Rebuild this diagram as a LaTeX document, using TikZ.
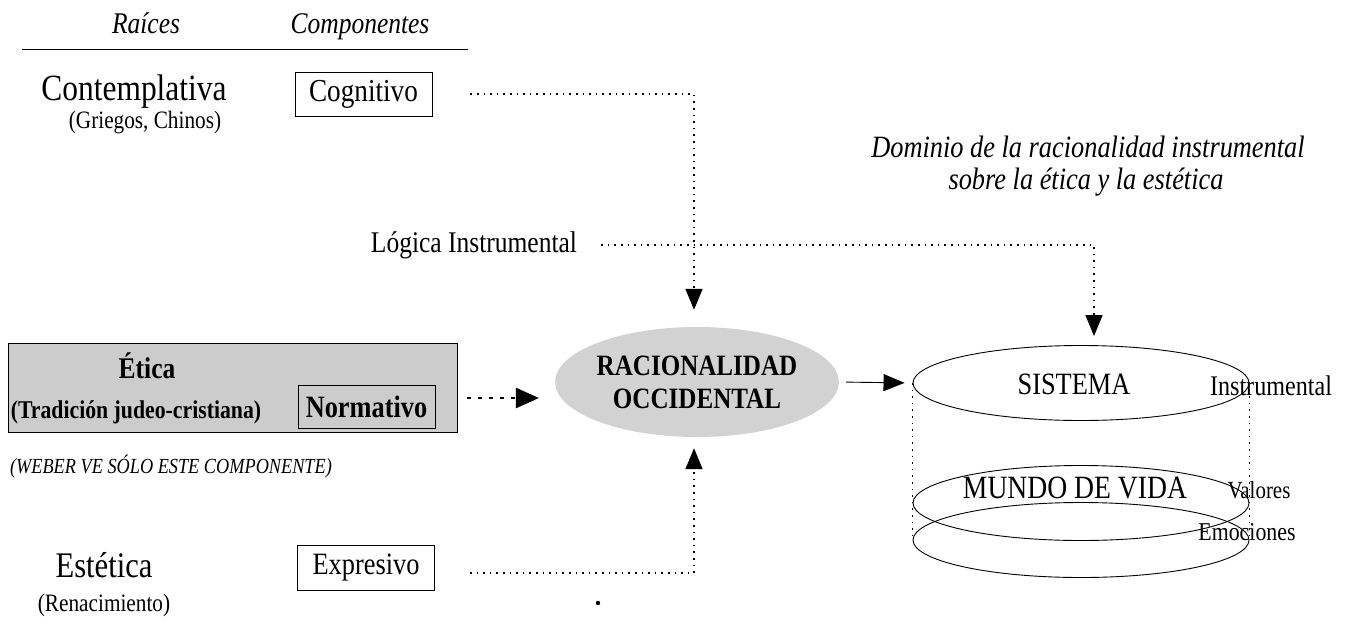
\documentclass[tikz,border=0pt]{standalone}
\usepackage{fontspec}
\setmainfont[FakeStretch=0.85]{Liberation Serif}
\usetikzlibrary{arrows.meta,shapes.geometric}
\begin{document}
\begin{tikzpicture}[x=1pt,y=-1pt,
  lbl/.style={inner sep=0pt,anchor=base},
  fs/.style={font=\fontsize{#1}{#1}\selectfont},
  fsi/.style={font=\fontsize{#1}{#1}\selectfont\itshape},
  fsb/.style={font=\fontsize{#1}{#1}\selectfont\bfseries},
  boxs/.style={draw,line width=0.8pt,minimum width=137pt,minimum height=44pt,inner sep=0pt},
  cyl/.style={ellipse,draw,line width=0.9pt,minimum width=336pt,minimum height=75pt,inner sep=0pt},
  dotline/.style={line width=1.6pt,dash pattern=on 1.6pt off 5pt},
  bigdash/.style={line width=2.4pt,dash pattern=on 4pt off 7pt},
  arrowhd/.style={-{Triangle[length=21pt,width=17pt]}},
  bigarrowhd/.style={-{Triangle[length=23pt,width=20pt]}}
]
\useasboundingbox (0,0) rectangle (1349,627);

% headers
\node[lbl,fsi=30] (hraiz) at (146,33) {Raíces};
\node[lbl,fsi=30] (hcomp) at (360,33) {Componentes};
\coordinate (rulea) at (22,49);
\coordinate (ruleb) at (468,49);
\draw[line width=1pt] (rulea) -- (ruleb);

% contemplativa
\node[lbl,fs=37] (cont) at (134,100) {Contemplativa};
\node[lbl,fs=25] (grie) at (145,128) {(Griegos, Chinos)};
\node[boxs,fs=32] (cog) at (363.5,94) {Cognitivo};

% logica
\node[lbl,fs=30] (log) at (474,252) {Lógica Instrumental};

% dominio
\node[lbl,fsi=31] (dom1) at (1088,157) {Dominio de la racionalidad instrumental};
\node[lbl,fsi=31] (dom2) at (1086,189) {sobre la ética y la estética};

% etica box
\node[draw,fill=gray!40,line width=0.8pt,minimum width=449pt,minimum height=89pt,inner sep=0pt] (etbox) at (232.5,387.5) {};
\node[lbl,fsb=30] (etica) at (147,378) {Ética};
\node[lbl,fsb=25.6] (trad) at (136,418) {(Tradición judeo-cristiana)};
\node[boxs,fsb=31,minimum height=43pt] (norm) at (366.5,406.5) {Normativo};
\node[lbl,fsi=21.5] (weber) at (171,473) {(WEBER VE SÓLO ESTE COMPONENTE)};

% estetica
\node[lbl,fs=36] (est) at (104,577) {Estética};
\node[lbl,fs=25] (ren) at (104,611) {(Renacimiento)};
\node[boxs,fs=31,minimum height=45pt] (expr) at (366,567.5) {Expresivo};

% racionalidad
\node[ellipse,fill=gray!35,minimum width=248pt,minimum height=110pt,inner sep=0pt,align=center,font=\fontsize{29.5}{33}\selectfont\bfseries] (rac) at (697,382) {RACIONALIDAD\\OCCIDENTAL};

% cylinder
\node[cyl] (bot) at (1081,540) {};
\node[cyl] (mv) at (1081,503) {};
\node[cyl] (sis) at (1081,383) {};
\draw[dotline] (sis.west) -- (bot.west);
\draw[dotline] (sis.east) -- (bot.east);
\node[lbl,fs=31] (sist) at (1074,394) {SISTEMA};
\node[lbl,fs=28.4] (instr) at (1271,395) {Instrumental};
\node[lbl,fs=32.5] (mundo) at (1075,498) {MUNDO DE VIDA};
\node[lbl,fs=24.6] (val) at (1259,498) {Valores};
\node[lbl,fs=25.7] (emo) at (1247,540) {Emociones};

% connectors
\draw[dotline,arrowhd,shorten >=17pt] ([xshift=38pt]cog.east) -| ([xshift=-3pt]rac.north);
\draw[dotline,arrowhd,shorten >=9pt] ([xshift=24pt]log.east) -| ([xshift=13pt]sis.north);
\draw[bigdash,bigarrowhd,shorten >=16pt] ([xshift=32pt,yshift=8.5pt]norm.east) -- ([yshift=-16pt]rac.west);
\draw[dotline,arrowhd,shorten >=11pt] ([xshift=35pt,yshift=-5.5pt]expr.east) -| ([xshift=-3pt]rac.south);
\draw[line width=0.9pt,arrowhd,shorten <=7pt,shorten >=8pt] (rac.east) -- (sis.west);

% stray dot
\fill (598,603) circle (2.2pt);
\end{tikzpicture}
\end{document}
